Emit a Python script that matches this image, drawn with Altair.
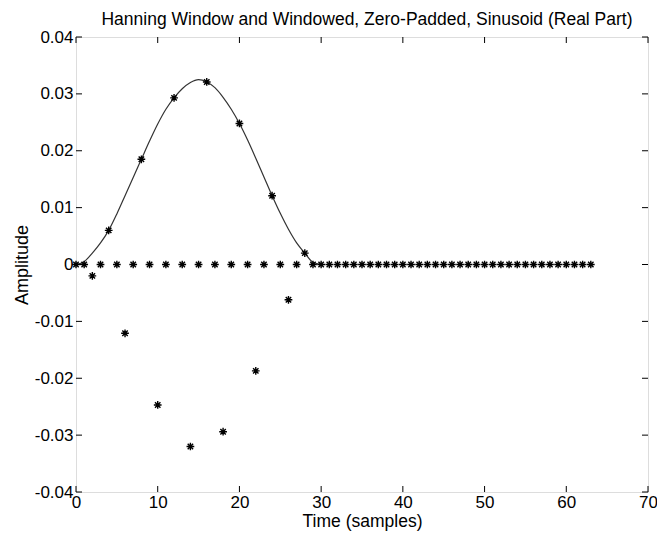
import altair as alt
import pandas as pd

# Windowed, zero-padded sinusoid samples (n = 0..63)
sample_n = list(range(64))
sample_val = [
    0.0, 0.0, -0.0020, 0.0, 0.0060, 0.0, -0.0121, 0.0, 0.0185, 0.0,
    -0.0247, 0.0, 0.0293, 0.0, -0.0320, 0.0, 0.0321, 0.0, -0.0294, 0.0,
    0.0248, 0.0, -0.0187, 0.0, 0.0121, 0.0, -0.0062, 0.0, 0.0020, 0.0,
    0.0, 0.0, 0.0, 0.0, 0.0, 0.0, 0.0, 0.0, 0.0, 0.0,
    0.0, 0.0, 0.0, 0.0, 0.0, 0.0, 0.0, 0.0, 0.0, 0.0,
    0.0, 0.0, 0.0, 0.0, 0.0, 0.0, 0.0, 0.0, 0.0, 0.0,
    0.0, 0.0, 0.0, 0.0,
]

# Hanning window envelope
win_n = list(range(31))
win_val = [
    0.0, 0.0005, 0.0020, 0.0038, 0.0060, 0.0089, 0.0121, 0.0153, 0.0185, 0.0217,
    0.0247, 0.0273, 0.0293, 0.0309, 0.0320, 0.0325, 0.0321, 0.0311, 0.0294, 0.0273,
    0.0248, 0.0219, 0.0187, 0.0154, 0.0121, 0.0090, 0.0062, 0.0038, 0.0020, 0.0004,
    0.0,
]

x_ticks = [0, 10, 20, 30, 40, 50, 60, 70]
y_ticks = [-0.04, -0.03, -0.02, -0.01, 0.0, 0.01, 0.02, 0.03, 0.04]

W, H = 572, 455
FONT = "Liberation Sans"

samples = pd.DataFrame({"n": sample_n, "v": sample_val})
window = pd.DataFrame({"n": win_n, "v": win_val})
xt = pd.DataFrame({"t": x_ticks})
yt = pd.DataFrame({"t": y_ticks})

xscale = alt.Scale(domain=[0, 70], nice=False, zero=False)
yscale = alt.Scale(domain=[-0.04, 0.04], nice=False, zero=False)

x_axis = alt.Axis(values=x_ticks, format="d", title="Time (samples)", grid=False,
                  domain=False, ticks=False, labelFontSize=17, titleFontSize=17.5,
                  labelFont=FONT, titleFont=FONT, labelColor="black", titleColor="black",
                  labelPadding=2, titlePadding=2, titleFontWeight="normal",
                  labelFlush=False, labelOverlap=False,
                  labelExpr="datum.value == 0 ? '0' : datum.label")
y_axis = alt.Axis(values=y_ticks, title="Amplitude", grid=False,
                  domain=False, ticks=False, labelFontSize=17, titleFontSize=18,
                  labelFont=FONT, titleFont=FONT, labelColor="black", titleColor="black",
                  labelPadding=3, titlePadding=3, titleFontWeight="normal",
                  labelFlush=False, labelOverlap=False,
                  labelExpr="datum.value == 0 ? '0' : (datum.value < 0 ? '-' + format(-datum.value, '.2f') : format(datum.value, '.2f'))")

line = alt.Chart(window).mark_line(color="#333333", strokeWidth=1.2, interpolate="monotone").encode(
    x=alt.X("n:Q", scale=xscale, axis=x_axis),
    y=alt.Y("v:Q", scale=yscale, axis=y_axis),
)

asterisk = "M-1,0L1,0M0,-1L0,1M-0.7,-0.7L0.7,0.7M-0.7,0.7L0.7,-0.7"
pts = alt.Chart(samples).mark_point(shape=asterisk, filled=False, color="black",
                                     size=60, strokeWidth=1.4, opacity=1).encode(
    x=alt.X("n:Q", scale=xscale),
    y=alt.Y("v:Q", scale=yscale),
)

TL = 6
tick_bottom = alt.Chart(xt).mark_rule(color="black", strokeWidth=1).encode(
    x=alt.X("t:Q", scale=xscale), y=alt.value(H), y2=alt.value(H - TL))
tick_top = alt.Chart(xt).mark_rule(color="black", strokeWidth=1).encode(
    x=alt.X("t:Q", scale=xscale), y=alt.value(0), y2=alt.value(TL))
tick_left = alt.Chart(yt).mark_rule(color="black", strokeWidth=1).encode(
    y=alt.Y("t:Q", scale=yscale), x=alt.value(0), x2=alt.value(TL))
tick_right = alt.Chart(yt).mark_rule(color="black", strokeWidth=1).encode(
    y=alt.Y("t:Q", scale=yscale), x=alt.value(W), x2=alt.value(W - TL))

chart = alt.layer(line, pts, tick_bottom, tick_top, tick_left, tick_right).properties(
    width=W, height=H,
    title=alt.TitleParams("Hanning Window and Windowed, Zero-Padded, Sinusoid (Real Part)",
                          font=FONT, fontSize=17.5, fontWeight="normal", color="black",
                          anchor="middle", offset=0, dx=5),
    autosize=alt.AutoSizeParams(type="none"),
    padding={"left": 68, "top": 29, "right": 9, "bottom": 40},
).configure_view(stroke="black", strokeWidth=1.2).configure(background="white")

chart.save("out.html", embed_options={"renderer": "svg", "actions": False})
